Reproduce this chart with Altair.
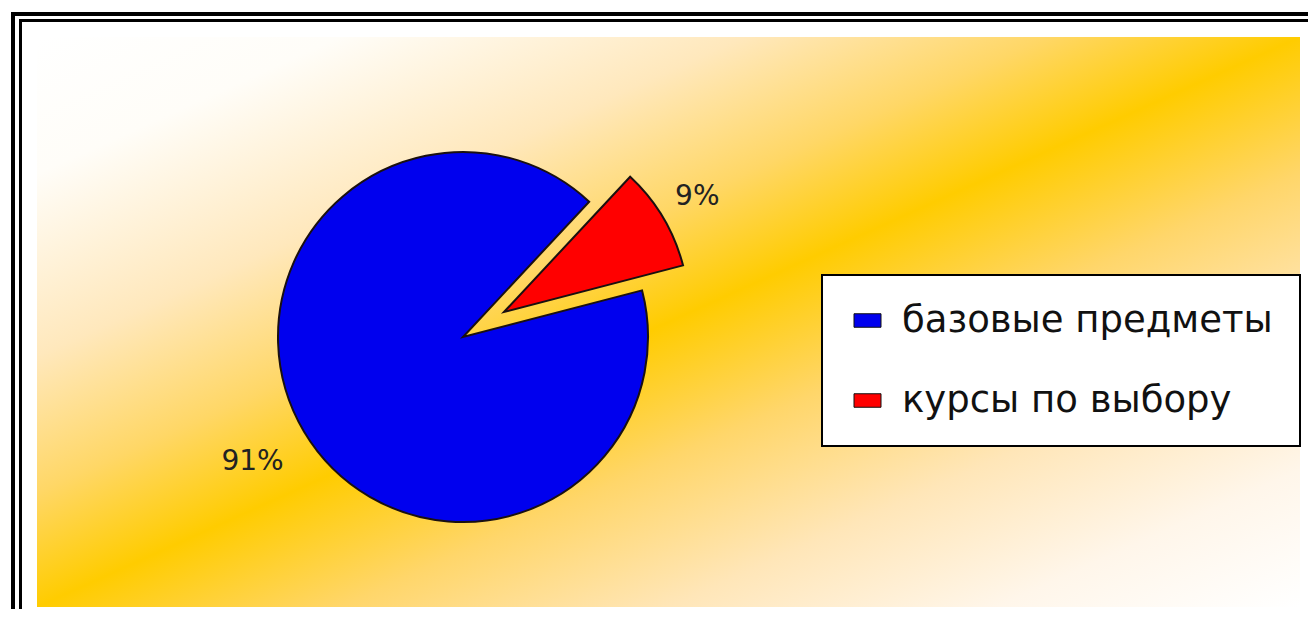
import math
import altair as alt
import pandas as pd

# ---- data ----
categories = ["курсы по выбору", "базовые предметы"]
values = [9, 91]
labels = ["9%", "91%"]
slice_order = [0, 1]
legend_order = ["базовые предметы", "курсы по выбору"]
colors = ["#0000EE", "#FF0000"]

# ---- layout ----
W, H = 1263, 570
CX, CY = 426, 300
R = 185
START = math.radians(43)
EXPLODE = (41, -25)

df = pd.DataFrame({"category": categories, "value": values, "label": labels, "order": slice_order})

base = (
    alt.Chart(df)
    .transform_joinaggregate(total="sum(value)")
    .transform_window(cum="sum(value)", sort=[alt.SortField("order")], frame=[None, 0])
    .transform_calculate(
        start="(datum.cum - datum.value) / datum.total",
        end="datum.cum / datum.total",
        mid="(datum.cum - datum.value / 2) / datum.total",
    )
)

theta_scale = alt.Scale(domain=[0, 1], range=[START, START + 2 * math.pi])
color_scale = alt.Scale(domain=legend_order, range=colors)

legend = alt.Legend(
    orient="none", legendX=785, legendY=238, title=None,
    symbolType="M-1,-0.5H1V0.5H-1Z", symbolSize=729,
    symbolStrokeColor="#111", symbolStrokeWidth=1,
    labelFont="DejaVu Sans", labelFontSize=37, labelColor="#111",
    labelOffset=16, labelLimit=600, rowPadding=42, padding=27,
    fillColor="white", strokeColor="black",
)


def arc_layer(cat, dx, dy, show_legend):
    enc = dict(
        theta=alt.Theta("start:Q", scale=theta_scale),
        theta2="end:Q",
        color=alt.Color("category:N", scale=color_scale, legend=legend if show_legend else None),
        x=alt.value(CX),
        y=alt.value(CY),
    )
    return (
        base.transform_filter(alt.datum.category == cat)
        .mark_arc(radius=R, stroke="#1a1010", strokeWidth=2, xOffset=dx, yOffset=dy)
        .encode(**enc)
    )


def text_layer(cat, dx, dy, r):
    return (
        base.transform_filter(alt.datum.category == cat)
        .mark_text(radius=r, font="DejaVu Sans", fontSize=28, color="#222",
                   xOffset=dx, yOffset=dy)
        .encode(theta=alt.Theta("mid:Q", scale=theta_scale), text="label:N",
                x=alt.value(CX), y=alt.value(CY))
    )


one = pd.DataFrame({"a": [0]})

bg = alt.Chart(one).mark_rect(
    color=alt.LinearGradient(
        gradient="linear",
        stops=[
            alt.GradientStop(offset=0, color="#FFFFFF"),
            alt.GradientStop(offset=0.12, color="#FFFDF8"),
            alt.GradientStop(offset=0.28, color="#FFE8BC"),
            alt.GradientStop(offset=0.4, color="#FFD766"),
            alt.GradientStop(offset=0.5, color="#FFCC00"),
            alt.GradientStop(offset=0.62, color="#FFD66A"),
            alt.GradientStop(offset=0.75, color="#FFE6B8"),
            alt.GradientStop(offset=0.88, color="#FFF6EA"),
            alt.GradientStop(offset=1, color="#FFFFFF"),
        ],
        x1=0, y1=0, x2=1, y2=1,
    )
).encode(x=alt.value(0), x2=alt.value(W), y=alt.value(0), y2=alt.value(H))

frame_outer = alt.Chart(one).mark_rect(filled=False, stroke="black", strokeWidth=4).encode(
    x=alt.value(-24), y=alt.value(-23), x2=alt.value(W + 60), y2=alt.value(H + 60))
frame_inner = alt.Chart(one).mark_rect(filled=False, stroke="black", strokeWidth=3).encode(
    x=alt.value(-16.5), y=alt.value(-16.5), x2=alt.value(W + 60), y2=alt.value(H + 60))

chart = alt.layer(
    bg, frame_outer, frame_inner,
    arc_layer("базовые предметы", 0, 0, True),
    arc_layer("курсы по выбору", EXPLODE[0], EXPLODE[1], False),
    text_layer("базовые предметы", 0, 0, 245),
    text_layer("курсы по выбору", EXPLODE[0], EXPLODE[1], 225),
).properties(
    width=W, height=H,
    autosize=alt.AutoSizeParams(type="none"),
    padding={"left": 29, "top": 29, "right": 8, "bottom": 2},
    background="white",
).configure_view(strokeWidth=0).configure_legend(strokeWidth=2)

chart.save("out.html", embed_options={"renderer": "svg", "actions": False})
